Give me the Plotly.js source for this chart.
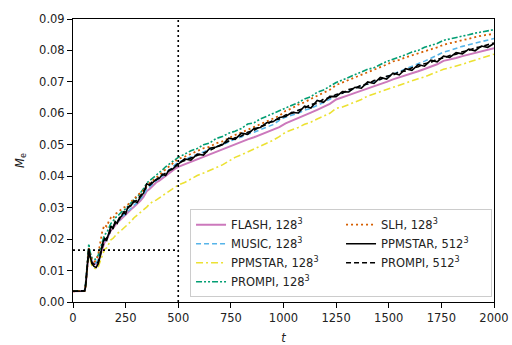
<!DOCTYPE html>
<html>
<head>
<meta charset="utf-8">
<script src="https://cdn.plot.ly/plotly-3.0.1.min.js"></script>
<style>html,body{margin:0;padding:0;background:#fff;}#chart{width:512px;height:345px;}</style>
</head>
<body>
<div id="chart"></div>
<script>
// time axis (shared by all series)
const t = [0,30,55,60,65,70,75,80,85,90,
  100,110,120,130,140,150,160,170,180,190,
  200,210,220,230,240,250,260,275,290,305,
  320,335,350,365,380,395,410,425,440,455,
  470,485,
  500,530,560,590,620,650,680,710,740,770,
  800,830,860,890,920,950,980,1010,1040,1070,
  1100,1130,1160,1190,1220,1250,1280,1310,1340,1370,
  1400,1430,1460,1490,1520,1550,1580,1610,1640,1670,
  1700,1730,1760,1790,1820,1850,1880,1910,1940,1970,
  2000];

const flash128 = [0.0034,0.0034,0.0035,0.0050,0.0090,0.0138,0.0168,0.0150,0.0136,0.0128,
  0.0122,0.0120,0.0130,0.0152,0.0175,0.0190,0.0198,0.0212,0.0228,0.0234,
  0.0245,0.0252,0.0258,0.0265,0.0272,0.0278,0.0285,0.0294,0.0303,0.0312,
  0.0322,0.0334,0.0352,0.0360,0.0370,0.0380,0.0386,0.0394,0.0402,0.0410,
  0.0418,0.0424,
  0.0430,0.0438,0.0446,0.0455,0.0462,0.0470,0.0478,0.0485,0.0494,0.0502,
  0.0510,0.0517,0.0524,0.0532,0.0540,0.0548,0.0556,0.0568,0.0576,0.0585,
  0.0593,0.0602,0.0611,0.0620,0.0630,0.0644,0.0650,0.0658,0.0665,0.0672,
  0.0678,0.0684,0.0692,0.0700,0.0708,0.0714,0.0720,0.0727,0.0734,0.0741,
  0.0748,0.0756,0.0767,0.0771,0.0776,0.0782,0.0787,0.0792,0.0797,0.0802,
  0.0807];

const music128 = [0.0034,0.0034,0.0035,0.0052,0.0092,0.0140,0.0172,0.0152,0.0138,0.0130,
  0.0125,0.0124,0.0136,0.0160,0.0182,0.0196,0.0200,0.0215,0.0232,0.0238,
  0.0250,0.0254,0.0262,0.0268,0.0276,0.0280,0.0288,0.0298,0.0308,0.0316,
  0.0328,0.0340,0.0358,0.0366,0.0376,0.0386,0.0392,0.0400,0.0410,0.0418,
  0.0428,0.0436,
  0.0445,0.0452,0.0462,0.0469,0.0478,0.0485,0.0494,0.0500,0.0510,0.0518,
  0.0525,0.0534,0.0540,0.0549,0.0556,0.0564,0.0578,0.0588,0.0595,0.0600,
  0.0610,0.0616,0.0625,0.0634,0.0645,0.0658,0.0664,0.0672,0.0680,0.0686,
  0.0694,0.0700,0.0708,0.0716,0.0726,0.0734,0.0742,0.0750,0.0757,0.0766,
  0.0775,0.0785,0.0795,0.0800,0.0807,0.0813,0.0818,0.0823,0.0828,0.0833,
  0.0838];

const ppmstar128 = [0.0034,0.0034,0.0035,0.0048,0.0085,0.0130,0.0162,0.0140,0.0125,0.0115,
  0.0108,0.0105,0.0112,0.0130,0.0150,0.0168,0.0172,0.0185,0.0198,0.0202,
  0.0212,0.0218,0.0222,0.0228,0.0236,0.0240,0.0246,0.0256,0.0268,0.0276,
  0.0286,0.0292,0.0302,0.0312,0.0320,0.0324,0.0330,0.0338,0.0345,0.0352,
  0.0360,0.0366,
  0.0372,0.0380,0.0392,0.0402,0.0410,0.0418,0.0428,0.0436,0.0448,0.0460,
  0.0468,0.0478,0.0486,0.0496,0.0505,0.0514,0.0526,0.0540,0.0548,0.0555,
  0.0565,0.0572,0.0582,0.0590,0.0600,0.0616,0.0620,0.0628,0.0636,0.0644,
  0.0655,0.0662,0.0668,0.0676,0.0684,0.0690,0.0697,0.0704,0.0710,0.0716,
  0.0724,0.0730,0.0740,0.0745,0.0750,0.0756,0.0763,0.0769,0.0775,0.0782,
  0.0788];

const prompi128 = [0.0034,0.0034,0.0036,0.0060,0.0105,0.0160,0.0185,0.0162,0.0148,0.0140,
  0.0135,0.0137,0.0150,0.0172,0.0196,0.0214,0.0220,0.0234,0.0250,0.0256,
  0.0268,0.0272,0.0280,0.0286,0.0292,0.0296,0.0304,0.0316,0.0326,0.0334,
  0.0346,0.0360,0.0378,0.0386,0.0394,0.0402,0.0412,0.0420,0.0430,0.0438,
  0.0446,0.0452,
  0.0460,0.0470,0.0481,0.0488,0.0500,0.0506,0.0520,0.0526,0.0537,0.0543,
  0.0552,0.0566,0.0570,0.0582,0.0590,0.0598,0.0608,0.0617,0.0626,0.0634,
  0.0646,0.0653,0.0667,0.0674,0.0686,0.0698,0.0706,0.0714,0.0722,0.0730,
  0.0740,0.0745,0.0755,0.0765,0.0772,0.0778,0.0786,0.0795,0.0800,0.0810,
  0.0816,0.0822,0.0832,0.0836,0.0842,0.0846,0.0850,0.0855,0.0858,0.0862,
  0.0866];

const slh128 = [0.0034,0.0034,0.0035,0.0055,0.0095,0.0145,0.0172,0.0152,0.0142,0.0135,
  0.0128,0.0132,0.0152,0.0195,0.0228,0.0245,0.0240,0.0256,0.0268,0.0264,
  0.0280,0.0284,0.0290,0.0294,0.0300,0.0303,0.0310,0.0320,0.0328,0.0338,
  0.0348,0.0356,0.0370,0.0378,0.0386,0.0394,0.0404,0.0412,0.0422,0.0430,
  0.0440,0.0448,
  0.0455,0.0462,0.0471,0.0479,0.0489,0.0494,0.0505,0.0511,0.0522,0.0531,
  0.0539,0.0548,0.0555,0.0566,0.0573,0.0582,0.0592,0.0608,0.0616,0.0628,
  0.0635,0.0646,0.0655,0.0664,0.0675,0.0690,0.0698,0.0706,0.0715,0.0722,
  0.0730,0.0737,0.0746,0.0755,0.0765,0.0770,0.0778,0.0784,0.0790,0.0797,
  0.0804,0.0810,0.0818,0.0823,0.0828,0.0834,0.0838,0.0842,0.0847,0.0850,
  0.0853];

const ppmstar512 = [0.0034,0.0034,0.0035,0.0050,0.0088,0.0135,0.0170,0.0150,0.0132,0.0122,
  0.0113,0.0110,0.0122,0.0148,0.0185,0.0202,0.0196,0.0218,0.0242,0.0232,
  0.0256,0.0250,0.0268,0.0272,0.0286,0.0280,0.0301,0.0306,0.0322,0.0316,
  0.0334,0.0346,0.0376,0.0371,0.0380,0.0390,0.0393,0.0406,0.0402,0.0419,
  0.0421,0.0430,
  0.0440,0.0455,0.0451,0.0470,0.0467,0.0489,0.0493,0.0500,0.0521,0.0517,
  0.0537,0.0533,0.0552,0.0555,0.0570,0.0573,0.0587,0.0590,0.0603,0.0601,
  0.0623,0.0617,0.0641,0.0635,0.0654,0.0653,0.0669,0.0668,0.0683,0.0680,
  0.0700,0.0695,0.0714,0.0709,0.0728,0.0722,0.0742,0.0737,0.0755,0.0750,
  0.0769,0.0764,0.0782,0.0778,0.0793,0.0789,0.0804,0.0799,0.0814,0.0810,
  0.0822];

const prompi512 = [0.0034,0.0034,0.0036,0.0055,0.0095,0.0140,0.0165,0.0145,0.0130,0.0125,
  0.0120,0.0118,0.0128,0.0155,0.0175,0.0195,0.0205,0.0212,0.0230,0.0240,
  0.0248,0.0258,0.0262,0.0278,0.0282,0.0290,0.0296,0.0310,0.0318,0.0325,
  0.0338,0.0352,0.0365,0.0374,0.0384,0.0388,0.0398,0.0404,0.0410,0.0416,
  0.0425,0.0432,
  0.0442,0.0450,0.0458,0.0465,0.0475,0.0482,0.0492,0.0502,0.0510,0.0522,
  0.0528,0.0540,0.0546,0.0558,0.0564,0.0578,0.0582,0.0595,0.0600,0.0610,
  0.0617,0.0628,0.0632,0.0645,0.0650,0.0660,0.0664,0.0676,0.0680,0.0690,
  0.0693,0.0704,0.0708,0.0718,0.0722,0.0732,0.0735,0.0745,0.0748,0.0758,
  0.0762,0.0772,0.0776,0.0784,0.0788,0.0796,0.0800,0.0808,0.0812,0.0818,
  0.0824];

// reference markers
const refT = [500, 500];
const refM = [0, 0.09];
const levelT = [0, 500];
const levelM = [0.0165, 0.0165];

const labels = ['FLASH, 128<sup>3</sup>','MUSIC, 128<sup>3</sup>','PPMSTAR, 128<sup>3</sup>',
  'PROMPI, 128<sup>3</sup>','SLH, 128<sup>3</sup>','PPMSTAR, 512<sup>3</sup>','PROMPI, 512<sup>3</sup>'];

const FONT = 'DejaVu Sans, sans-serif';
function tr(y, name, color, dash, width, rank) {
  return {x: t, y: y, name: name, type: 'scatter', mode: 'lines',
    line: {color: color, dash: dash, width: width}, legendrank: rank};
}
const data = [
  tr(flash128, labels[0], '#CC78BC', 'solid', 2, 1),
  tr(music128, labels[1], '#56B4E9', '5px,3px', 1.6, 3),
  tr(ppmstar128, labels[2], '#ECE133', '7px,3px,2px,3px', 1.6, 5),
  tr(prompi128, labels[3], '#029E73', '6px,2px,2px,2px,2px,2px', 1.6, 7),
  tr(slh128, labels[4], '#D55E00', '2px,3px', 1.8, 2),
  tr(prompi512, labels[6], '#000000', '5px,3px', 1.6, 6),
  tr(ppmstar512, labels[5], '#000000', 'solid', 1.6, 4),
  {x: refT, y: refM, type: 'scatter', mode: 'lines', showlegend: false,
    line: {color: '#000', dash: '2px,3px', width: 1.6}},
  {x: levelT, y: levelM, type: 'scatter', mode: 'lines', showlegend: false,
    line: {color: '#000', dash: '2px,3px', width: 1.6}}
];

const axisCommon = {
  showgrid: false, zeroline: false, showline: true, mirror: true,
  linecolor: '#000', linewidth: 1, ticks: 'outside', ticklen: 5, tickwidth: 1,
  tickcolor: '#000', tickfont: {family: FONT, size: 11.5, color: '#222'}
};
const layout = {
  width: 512, height: 345,
  margin: {l: 73, r: 18, t: 13, b: 43},
  paper_bgcolor: '#fff', plot_bgcolor: '#fff',
  font: {family: FONT, size: 11.5, color: '#222'},
  xaxis: Object.assign({}, axisCommon, {
    range: [0, 2000], tickvals: [0,250,500,750,1000,1250,1500,1750,2000],
    title: {text: '<i>t</i>', font: {family: FONT, size: 11.5, color: '#222'}}
  }),
  yaxis: Object.assign({}, axisCommon, {
    range: [0, 0.09], dtick: 0.01, tickformat: '.2f', automargin: true,
    title: {text: '<i>M</i><sub>e</sub>', font: {family: FONT, size: 11.5, color: '#222'}, standoff: 12}
  }),
  legend: {
    orientation: 'h', x: 0.278, y: 0.017, xanchor: 'left', yanchor: 'bottom',
    bgcolor: 'rgba(255,255,255,0.85)', bordercolor: '#cccccc', borderwidth: 1,
    font: {family: FONT, size: 11.5, color: '#222'}, entrywidth: 105, entrywidthmode: 'pixels'
  },
  showlegend: true
};
Plotly.newPlot('chart', data, layout, {staticPlot: true, displayModeBar: false});
</script>
</body>
</html>
